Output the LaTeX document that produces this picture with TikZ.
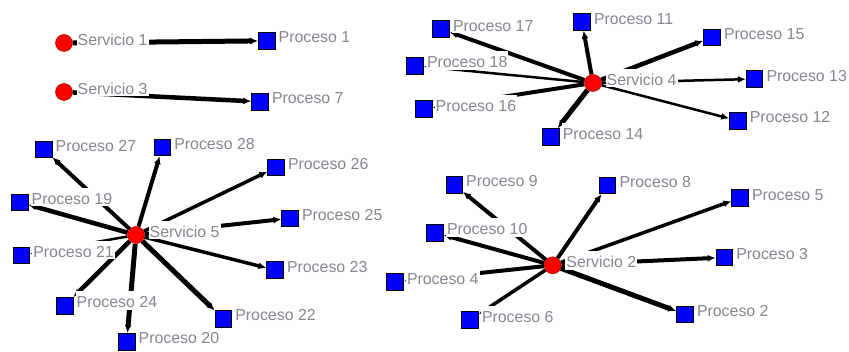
\documentclass[tikz,border=0pt]{standalone}
\usepackage{fontspec}
\setmainfont{Liberation Sans}
\usetikzlibrary{arrows.meta}
\pgfdeclarelayer{edges}
\pgfdeclarelayer{labels}
\pgfsetlayers{edges,labels,main}
\definecolor{lblgray}{RGB}{134,134,146}
\definecolor{nodeblue}{RGB}{0,0,255}
\definecolor{nodered}{RGB}{255,0,0}
\newcommand{\mkproc}[4]{%
  \node[proc] (#1) at (#2,#3) {};
  \begin{pgfonlayer}{labels}\path (#1) ++(10.8,2.2) node[lbl] (#1l) {#4};\end{pgfonlayer}}
\newcommand{\mkserv}[4]{%
  \node[serv] (#1) at (#2,#3) {};
  \begin{pgfonlayer}{labels}\path (#1) ++(12.5,2.4) node[lbl] (#1l) {#4};\end{pgfonlayer}}
\newcommand{\tieto}[3]{\begin{pgfonlayer}{edges}\draw[tie=#3] (#1) -- (#2);\end{pgfonlayer}}
\begin{document}
\begin{tikzpicture}[x=1pt,y=-1pt,
  proc/.style={rectangle, draw=black, line width=0.8pt, fill=nodeblue, minimum size=16.5pt, inner sep=0pt},
  serv/.style={circle, draw=red!65!black, line width=0.5pt, fill=nodered, minimum size=17pt, inner sep=0pt},
  lbl/.style={font=\fontsize{15.9}{18}\selectfont, text=lblgray, fill=white, inner xsep=1pt, inner ysep=0pt, text height=16.5pt, text depth=2pt, anchor=base west},
  tie/.style={line width=#1, draw=black, -{Latex[length=8pt,width=7pt]}}]
\useasboundingbox (0,0) rectangle (849,352);

% services
\mkserv{s1}{64}{43}{Servicio 1}
\mkserv{s3}{64}{92}{Servicio 3}
\mkserv{s4}{593}{83}{Servicio 4}
\mkserv{s5}{136}{235}{Servicio 5}
\mkserv{s2}{552.7}{265.3}{Servicio 2}

% processes
\mkproc{p1}{266.7}{40.8}{Proceso 1}
\mkproc{p7}{260}{101.7}{Proceso 7}
\mkproc{p17}{441}{29}{Proceso 17}
\mkproc{p11}{582}{22}{Proceso 11}
\mkproc{p15}{712}{37.3}{Proceso 15}
\mkproc{p18}{415}{65.7}{Proceso 18}
\mkproc{p13}{754.5}{79}{Proceso 13}
\mkproc{p16}{423.7}{109}{Proceso 16}
\mkproc{p12}{737.8}{120.7}{Proceso 12}
\mkproc{p14}{550.8}{137}{Proceso 14}
\mkproc{p27}{43.7}{149.3}{Proceso 27}
\mkproc{p28}{162.3}{147.5}{Proceso 28}
\mkproc{p26}{276}{167.5}{Proceso 26}
\mkproc{p19}{19.7}{202.3}{Proceso 19}
\mkproc{p25}{290}{218.3}{Proceso 25}
\mkproc{p21}{21.3}{255.3}{Proceso 21}
\mkproc{p23}{275}{270}{Proceso 23}
\mkproc{p24}{64.7}{305.7}{Proceso 24}
\mkproc{p22}{223.3}{318.7}{Proceso 22}
\mkproc{p20}{126.7}{341.7}{Proceso 20}
\mkproc{p9}{454.2}{184.7}{Proceso 9}
\mkproc{p8}{607.5}{185.3}{Proceso 8}
\mkproc{p5}{740}{198}{Proceso 5}
\mkproc{p10}{435}{232.7}{Proceso 10}
\mkproc{p3}{724.3}{257.5}{Proceso 3}
\mkproc{p4}{395}{282}{Proceso 4}
\mkproc{p6}{470}{320}{Proceso 6}
\mkproc{p2}{685}{314.3}{Proceso 2}

% ties
\tieto{s1}{p1}{5pt}
\tieto{s3}{p7}{4.5pt}
\tieto{s4}{p17}{4pt}
\tieto{s4}{p11}{4pt}
\tieto{s4}{p15}{4.5pt}
\tieto{s4}{p18}{2.5pt}
\tieto{s4}{p13}{2.5pt}
\tieto{s4}{p16}{4pt}
\tieto{s4}{p12}{2.5pt}
\tieto{s4}{p14}{5pt}
\tieto{s5}{p27}{4pt}
\tieto{s5}{p28}{4pt}
\tieto{s5}{p26}{3.5pt}
\tieto{s5}{p19}{4.5pt}
\tieto{s5}{p25}{4pt}
\tieto{s5}{p21}{2.5pt}
\tieto{s5}{p23}{3.5pt}
\tieto{s5}{p24}{4.5pt}
\tieto{s5}{p22}{5pt}
\tieto{s5}{p20}{5pt}
\tieto{s2}{p9}{4pt}
\tieto{s2}{p8}{4pt}
\tieto{s2}{p5}{3.5pt}
\tieto{s2}{p10}{4pt}
\tieto{s2}{p3}{4pt}
\tieto{s2}{p4}{4pt}
\tieto{s2}{p6}{3.5pt}
\tieto{s2}{p2}{5pt}
\end{tikzpicture}
\end{document}
